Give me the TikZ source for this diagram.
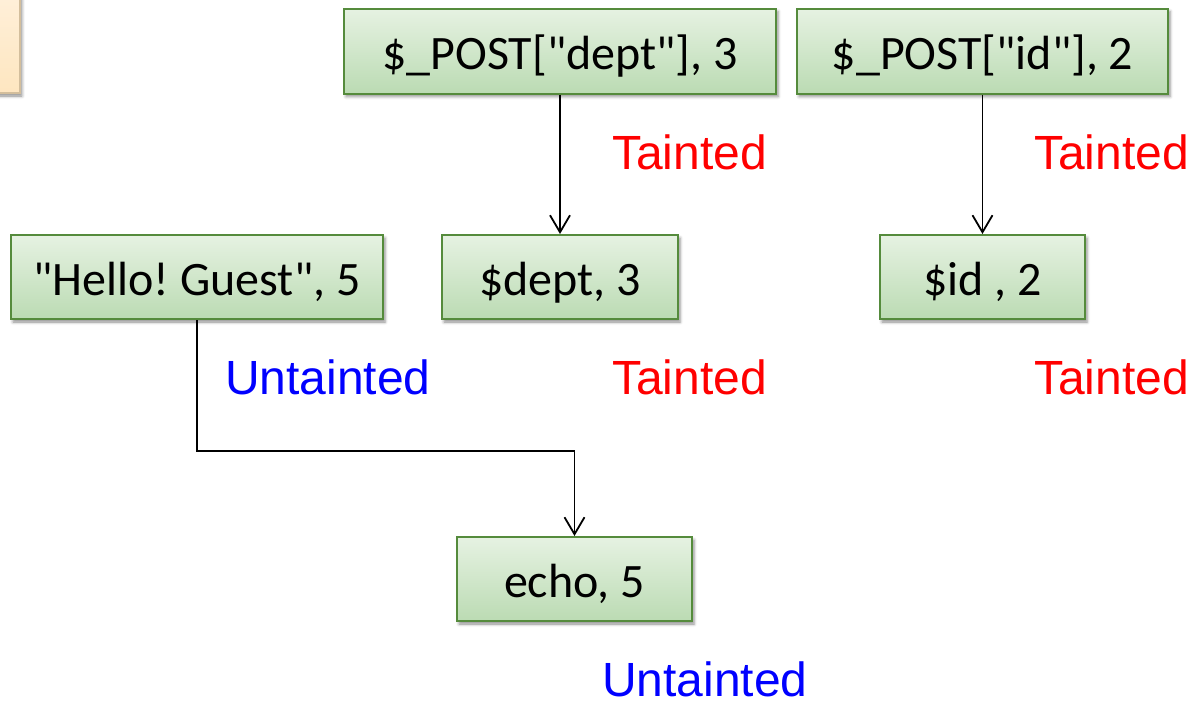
\documentclass[tikz,border=0pt]{standalone}
\usepackage{fontspec}
\setmainfont{Carlito}[Ligatures=TeXOff]
\newfontfamily\arialf{Liberation Sans}
\usetikzlibrary{arrows.meta,shadows.blur}
\frenchspacing
\definecolor{boxborder}{HTML}{558B3C}
\definecolor{boxtop}{HTML}{E6F2E2}
\definecolor{boxbot}{HTML}{BBDBB3}
\definecolor{orborder}{HTML}{D3BE9C}
\definecolor{ortop}{HTML}{FFF3E2}
\definecolor{orbot}{HTML}{FEE6C0}
\definecolor{tred}{HTML}{FF0000}
\definecolor{tblue}{HTML}{0000FF}
\tikzset{
  boxnode/.style={draw=boxborder, line width=2pt, top color=boxtop, bottom color=boxbot,
    inner sep=0pt, text height=36pt, text depth=0pt, font=\fontsize{48}{58}\selectfont,
    blur shadow={shadow xshift=2pt, shadow yshift=-3pt, shadow blur radius=3pt, shadow opacity=45}},
  lab/.style={font=\arialf\fontsize{48}{58}\selectfont, inner sep=0pt, anchor=base west},
  conn/.style={line width=1.8pt, -{Straight Barb[length=17pt,width=20pt,line width=1.8pt]}}
}
\begin{document}
\begin{tikzpicture}[x=1pt,y=-1pt]
\useasboundingbox (0,0) rectangle (1202,707);
\begin{scope}
\clip (0,0) rectangle (1202,707);
\path[draw=orborder, line width=2pt, top color=ortop, bottom color=orbot,
  blur shadow={shadow xshift=2pt, shadow yshift=-3pt, shadow blur radius=3pt, shadow opacity=45}]
  (-40,-40) rectangle (20,93);
\end{scope}
\node[boxnode, minimum width=432pt, minimum height=85pt] (post) at (560,51) {\$\_POST["dept"], 3};
\node[boxnode, minimum width=371pt, minimum height=85pt] (postid) at (982.5,51) {\$\_POST["id"], 2};
\node[boxnode, minimum width=372pt, minimum height=84pt] (hello) at (197,277) {"Hello! Guest", 5};
\node[boxnode, minimum width=236pt, minimum height=84pt] (dept) at (560,277) {\$dept, 3};
\node[boxnode, minimum width=205pt, minimum height=84pt] (id) at (982.5,277) {\$id , 2};
\node[boxnode, minimum width=235pt, minimum height=84pt] (echo) at (574.5,579) {echo, 5};
\draw[conn] (post.south) -- (dept.north);
\draw[conn] (postid.south) -- (id.north);
\draw[conn] (hello.south) -- ++(0,131) -| (echo.north);
\node[lab, text=tred] (t1) at (612,169) {Tainted};
\node[lab, text=tred] (t2) at (1034,169) {Tainted};
\node[lab, text=tred] (t3) at (612,394) {Tainted};
\node[lab, text=tred] (t4) at (1034,394) {Tainted};
\node[lab, text=tblue] (u1) at (225,394) {Untainted};
\node[lab, text=tblue] (u2) at (602,696) {Untainted};
\end{tikzpicture}
\end{document}
